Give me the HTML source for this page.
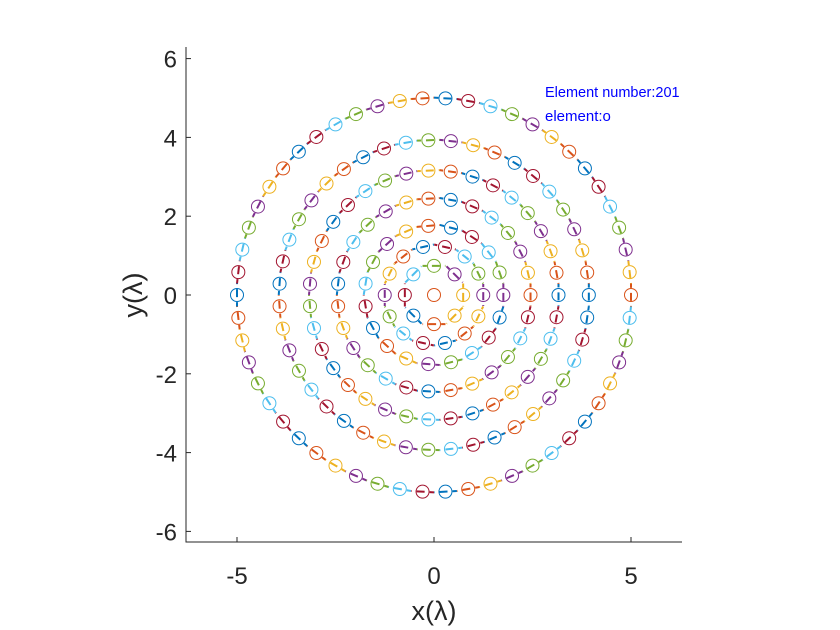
<!DOCTYPE html>
<html><head><meta charset="utf-8"><style>
body{margin:0;background:#fff;}
svg{display:block;font-family:"Liberation Sans",sans-serif;}
</style></head><body>
<svg id="chart" width="840" height="630" viewBox="0 0 840 630">
<rect width="840" height="630" fill="#fff"/>
<g id="marks"></g>
<g id="axes"></g>
<text x="545" y="97" font-size="14.5" fill="#0000ff">Element number:201</text>
<text x="545" y="121" font-size="15" fill="#0000ff">element:o</text>
<text x="434" y="620" font-size="27" fill="#262626" text-anchor="middle">x(λ)</text>
<text x="142" y="295" font-size="27" fill="#262626" text-anchor="middle" transform="rotate(-90 142 295)">y(λ)</text>
</svg>
<script>
const ringRadii = [0, 0.74, 1.25, 1.76, 2.45, 3.16, 3.93, 5.0];
const ringCounts = [1, 8, 14, 19, 27, 35, 43, 54];
const xTicks = [-5, 0, 5];
const yTicks = [-6, -4, -2, 0, 2, 4, 6];
const colors = ["#0072BD","#D95319","#EDB120","#7E2F8E","#77AC30","#4DBEEE","#A2142F"];
const X0 = 434, Y0 = 295, S = 39.4;
const sx = v => X0 + v * S;
const sy = v => Y0 - v * S;
const NS = "http://www.w3.org/2000/svg";
const marks = document.getElementById('marks');
const axes = document.getElementById('axes');
function mk(tag, attrs, parent){const e=document.createElementNS(NS,tag);for(const k in attrs)e.setAttribute(k,attrs[k]);parent.appendChild(e);return e;}
let idx = 1;
ringRadii.forEach((r, ri) => {
  const n = ringCounts[ri];
  for (let i = 0; i < n; i++) {
    const a = 2 * Math.PI * i / n;
    const x = r * Math.cos(a), y = r * Math.sin(a);
    const c = colors[idx % colors.length];
    const px = sx(x), py = sy(y);
    if (r > 0) {
      const len = 2 * Math.PI * r * S / n;
      const tx = -Math.sin(a), ty = -Math.cos(a);
      const seg = mk('line', {x1: px - tx*len/2, y1: py - ty*len/2, x2: px + tx*len/2, y2: py + ty*len/2, stroke: c, 'stroke-width': 2, 'stroke-dasharray': '8 5', 'stroke-dashoffset': (len/2 - 4) }, marks);
      
      
    }
    const m = mk('circle', {cx: px, cy: py, r: 6.5, fill: 'none', stroke: c, 'stroke-width': 1}, marks);
    
    
    idx++;
  }
});
const L = mk('path', {d: 'M186 47V542H682', fill: 'none', stroke: '#262626', 'stroke-width': 1}, axes);


xTicks.forEach(t => {
  const tk = mk('line', {x1: sx(t), x2: sx(t), y1: 542, y2: 537, stroke: '#262626'}, axes);
  
  
  const tl = mk('text', {x: sx(t), y: 584, 'font-size': 24, fill: '#262626', 'text-anchor': 'middle'}, axes);
  tl.textContent = t;
  
  
});
yTicks.forEach(t => {
  const tk = mk('line', {x1: 186, x2: 191, y1: sy(t), y2: sy(t), stroke: '#262626'}, axes);
  
  
  const tl = mk('text', {x: 177, y: sy(t) + 9, 'font-size': 24, fill: '#262626', 'text-anchor': 'end'}, axes);
  tl.textContent = t;
  
  
});
</script>
</body></html>
